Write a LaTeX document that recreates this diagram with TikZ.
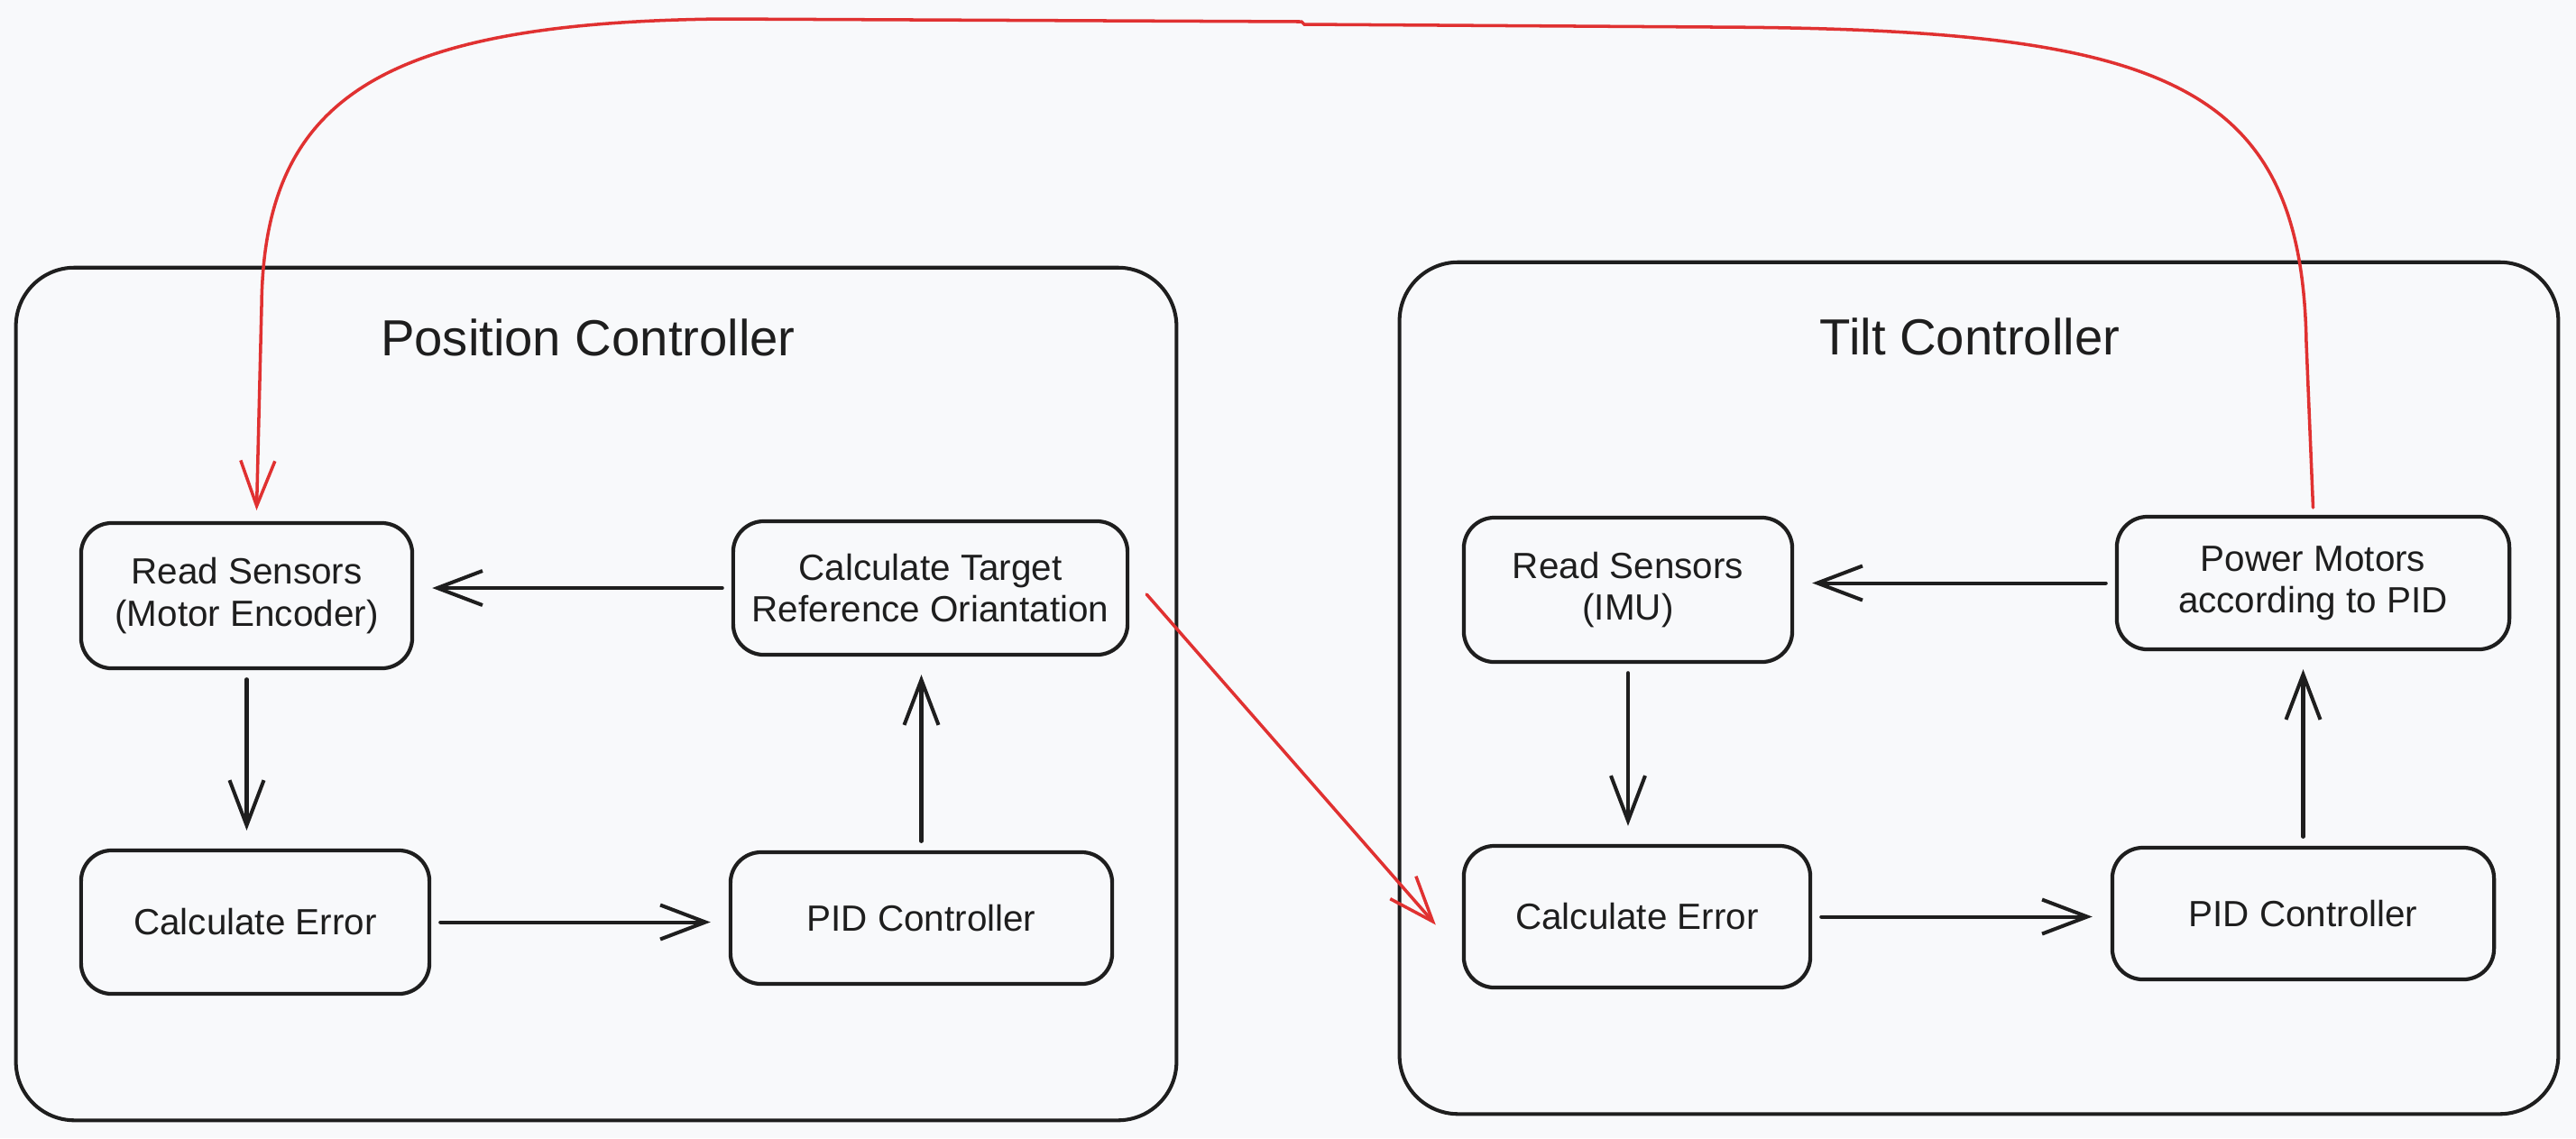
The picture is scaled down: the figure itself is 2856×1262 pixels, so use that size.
\documentclass[tikz,border=0pt]{standalone}
\usepackage{fontspec}
\setmainfont{Liberation Sans}
\usetikzlibrary{arrows.meta}
\definecolor{paper}{HTML}{F8F9FB}
\definecolor{ink}{HTML}{1E1E1E}
\definecolor{wire}{HTML}{E03131}
\begin{document}
\begin{tikzpicture}[
	x=0.01cm, y=-0.01cm,
	panel/.style={draw=ink, line width=1.15pt, rounded corners=0.65cm, inner sep=0pt},
	heading/.style={text=ink, inner sep=0pt, font=\fontsize{16}{19}\selectfont},
	stage/.style={draw=ink, line width=1.2pt, rounded corners=0.34cm, align=center,
		inner sep=0pt, text=ink, font=\fontsize{11.5}{13.1}\selectfont},
	flow/.style={draw=ink, line width=1.15pt, line cap=round, shorten <=0.1cm,
		shorten >=0.2cm, -{Straight Barb[length=0.5cm, width=0.38cm]}},
	signal/.style={draw=wire, line width=1pt, line cap=round,
		-{Straight Barb[length=0.5cm, width=0.38cm]}},
]
\path[use as bounding box, fill=paper] (0,0) rectangle (2856,1262);

\node[panel, minimum width=12.86cm, minimum height=9.45cm] (posctl) at (661,769.5) {};
\node[panel, minimum width=12.84cm, minimum height=9.44cm] (tiltctl) at (2194,763) {};
\node[heading] (postitle) at (652,374) {Position Controller};
\node[heading] (tilttitle) at (2184,373) {Tilt Controller};

\node[stage, minimum width=3.67cm, minimum height=1.61cm] (readenc) at (273.5,660.5) {Read Sensors\\(Motor Encoder)};
\node[stage, minimum width=4.37cm, minimum height=1.48cm] (target) at (1031.5,652) {Calculate Target\\Reference Oriantation};
\node[stage, minimum width=3.86cm, minimum height=1.59cm] (errpos) at (283,1022.5) {Calculate Error};
\node[stage, minimum width=4.23cm, minimum height=1.46cm] (pidpos) at (1021.5,1018) {PID Controller};

\node[stage, minimum width=3.64cm, minimum height=1.60cm] (readimu) at (1805,654) {Read Sensors\\(IMU)};
\node[stage, minimum width=4.35cm, minimum height=1.47cm] (motors) at (2564.5,646.5) {Power Motors\\according to PID};
\node[stage, minimum width=3.84cm, minimum height=1.57cm] (errtilt) at (1815,1016.5) {Calculate Error};
\node[stage, minimum width=4.23cm, minimum height=1.46cm] (pidtilt) at (2553.5,1013) {PID Controller};

\foreach \rd/\er/\pid/\out in {readenc/errpos/pidpos/target, readimu/errtilt/pidtilt/motors} {
	\draw[flow] (\out.west) -- (\out.west -| \rd.east);
	\draw[flow] (\rd.south) -- (\rd.south |- \er.north);
	\draw[flow] (\er.east) -- (\er.east -| \pid.west);
	\draw[flow] (\pid.north) -- (\pid.north |- \out.south);
}

\draw[signal] ([shift={(19,7)}]target.east) -- ([shift={(-29,9)}]errtilt.west);
\draw[signal] ([yshift=0.08cm]motors.north) -- (2557,380)
	.. controls (2552,90) and (2400,32) .. (1900,30) -- (1446,27) -- (1443,24) -- (800,21)
	.. controls (420,25) and (292,110) .. (290,340) -- ([shift={(11,-12)}]readenc.north);
\end{tikzpicture}
\end{document}
